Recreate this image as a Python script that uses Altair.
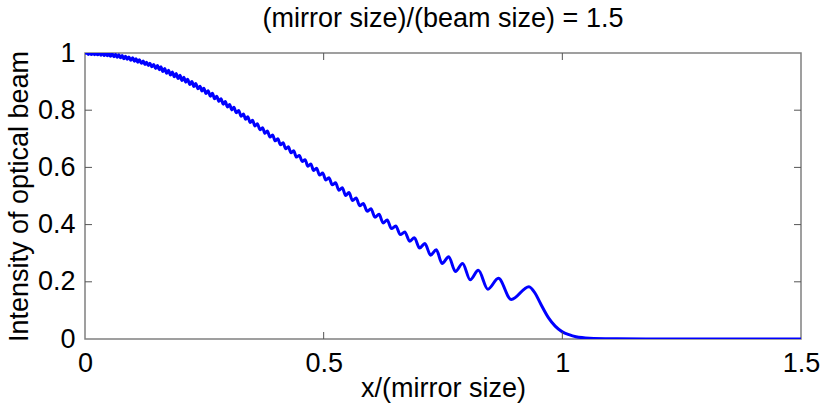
import altair as alt
import pandas as pd

TITLE = "(mirror size)/(beam size) = 1.5"
X_TITLE = "x/(mirror size)"
Y_TITLE = "Intensity of optical beam"

x_ticks = [0, 0.5, 1, 1.5]
y_ticks = [0, 0.2, 0.4, 0.6, 0.8, 1]

# curve (alternating ripple maxima / minima, then the edge fall-off)
x_vals = [
    0.0, 0.004, 0.007, 0.010, 0.0135, 0.017, 0.020, 0.023, 0.0265, 0.030,
    0.0335, 0.037, 0.0405, 0.044, 0.047, 0.050, 0.0535, 0.057, 0.0605, 0.064,
    0.0675, 0.071, 0.0745, 0.078, 0.0815, 0.085, 0.0885, 0.092, 0.096, 0.100,
    0.1035, 0.107, 0.1105, 0.114, 0.118, 0.122, 0.1255, 0.129, 0.1325, 0.136,
    0.140, 0.144, 0.148, 0.152, 0.1555, 0.159, 0.163, 0.167, 0.171, 0.175,
    0.179, 0.183, 0.187, 0.191, 0.195, 0.199, 0.203, 0.207, 0.211, 0.215,
    0.2195, 0.224, 0.228, 0.232, 0.2365, 0.241, 0.245, 0.249, 0.2535, 0.258,
    0.2625, 0.267, 0.2715, 0.276, 0.2805, 0.285, 0.2895, 0.294, 0.2985, 0.303,
    0.3075, 0.312, 0.317, 0.322, 0.327, 0.332, 0.3365, 0.341, 0.346, 0.351,
    0.356, 0.361, 0.3665, 0.372, 0.377, 0.382, 0.3875, 0.393, 0.3985, 0.404,
    0.4095, 0.415, 0.4205, 0.426, 0.4315, 0.437, 0.443, 0.449, 0.455, 0.461,
    0.467, 0.473, 0.479, 0.485, 0.4915, 0.498, 0.5045, 0.511, 0.518, 0.525,
    0.532, 0.539, 0.546, 0.553, 0.5605, 0.568, 0.5755, 0.583, 0.591, 0.599,
    0.6075, 0.616, 0.6245, 0.633, 0.642, 0.651, 0.6605, 0.670, 0.680, 0.690,
    0.701, 0.712, 0.724, 0.736, 0.748, 0.762, 0.776, 0.791, 0.807, 0.824,
    0.844, 0.866, 0.893, 0.930, 0.943, 0.954, 0.9715, 0.985, 1.000, 1.014,
    1.0285, 1.057, 1.114, 1.200, 1.300, 1.400, 1.500,
]
y_vals = [
    0.998, 1.000, 0.995, 1.000, 0.995, 1.000, 0.994, 1.000, 0.994, 1.000,
    0.992, 1.000, 0.991, 0.999, 0.990, 0.998, 0.989, 0.997, 0.987, 0.995,
    0.985, 0.994, 0.983, 0.991, 0.980, 0.989, 0.978, 0.986, 0.975, 0.983,
    0.971, 0.980, 0.968, 0.976, 0.964, 0.972, 0.960, 0.968, 0.956, 0.964,
    0.952, 0.960, 0.946, 0.956, 0.941, 0.952, 0.935, 0.946, 0.929, 0.940,
    0.923, 0.934, 0.917, 0.928, 0.911, 0.922, 0.904, 0.915, 0.898, 0.908,
    0.890, 0.900, 0.883, 0.893, 0.875, 0.884, 0.867, 0.877, 0.858, 0.868,
    0.849, 0.859, 0.840, 0.849, 0.831, 0.840, 0.821, 0.830, 0.811, 0.820,
    0.801, 0.810, 0.791, 0.799, 0.779, 0.787, 0.768, 0.777, 0.757, 0.765,
    0.745, 0.753, 0.732, 0.739, 0.719, 0.727, 0.706, 0.713, 0.693, 0.700,
    0.679, 0.686, 0.665, 0.672, 0.651, 0.658, 0.636, 0.642, 0.621, 0.627,
    0.604, 0.612, 0.589, 0.597, 0.573, 0.580, 0.556, 0.564, 0.539, 0.546,
    0.520, 0.529, 0.502, 0.512, 0.484, 0.493, 0.466, 0.474, 0.447, 0.455,
    0.426, 0.436, 0.406, 0.416, 0.386, 0.395, 0.365, 0.374, 0.342, 0.354,
    0.318, 0.334, 0.293, 0.312, 0.264, 0.288, 0.236, 0.264, 0.207, 0.240,
    0.174, 0.212, 0.138, 0.183, 0.160, 0.125, 0.073, 0.045, 0.025, 0.015,
    0.008, 0.003, 0.001, 0.0, 0.0, 0.0, 0.0,
]

W, H = 716, 286
FONT = "Liberation Sans"
FS = 27

df = pd.DataFrame({"xv": x_vals, "yv": y_vals})
xt = pd.DataFrame({"xv": x_ticks[1:-1]})
yt = pd.DataFrame({"yv": y_ticks[1:-1]})

x_scale = alt.Scale(domain=[0, 1.5], nice=False, zero=False)
y_scale = alt.Scale(domain=[0, 1], nice=False, zero=False)

x_axis = alt.Axis(values=x_ticks, format="~g", title=X_TITLE, domain=False,
                  ticks=False, grid=False, labelPadding=11, titlePadding=-1,
                  labelFlush=False, labelOverlap=False)
y_axis = alt.Axis(values=y_ticks, format="~g", title=Y_TITLE, domain=False,
                  ticks=False, grid=False, labelPadding=10, titlePadding=4,
                  labelFlush=False, labelOverlap=False)

x_enc = alt.X("xv:Q", scale=x_scale, axis=x_axis)
y_enc = alt.Y("yv:Q", scale=y_scale, axis=y_axis)

line = alt.Chart(df).mark_line(
    color="#0000ff", strokeWidth=3, clip=True, interpolate="monotone"
).encode(x=x_enc, y=y_enc, order=alt.Order("xv:Q"))

tick_style = dict(color="#555555", strokeWidth=1)

bottom_ticks = alt.Chart(xt).mark_rule(**tick_style).encode(
    x=x_enc, y=alt.value(H), y2=alt.value(H - 7))
top_ticks = alt.Chart(xt).mark_rule(**tick_style).encode(
    x=x_enc, y=alt.value(0), y2=alt.value(7))
left_ticks = alt.Chart(yt).mark_rule(**tick_style).encode(
    y=y_enc, x=alt.value(0), x2=alt.value(7))
right_ticks = alt.Chart(yt).mark_rule(**tick_style).encode(
    y=y_enc, x=alt.value(W), x2=alt.value(W - 7))

chart = (
    alt.layer(line, bottom_ticks, top_ticks, left_ticks, right_ticks)
    .properties(
        width=W, height=H,
        title=alt.TitleParams(TITLE, fontSize=FS, font=FONT, fontWeight="normal",
                              color="#000000", anchor="middle", frame="group",
                              offset=6),
        autosize=alt.AutoSizeParams(type="none"),
        padding={"left": 85, "top": 53, "right": 22, "bottom": 67},
    )
    .configure(background="#ffffff")
    .configure_view(stroke="#808080", strokeWidth=1.5)
    .configure_axis(labelFont=FONT, titleFont=FONT, labelFontSize=FS, titleFontSize=FS,
                    labelColor="#000000", titleColor="#000000", titleFontWeight="normal")
)

chart.save("out.html", embed_options={"renderer": "svg", "actions": False})
